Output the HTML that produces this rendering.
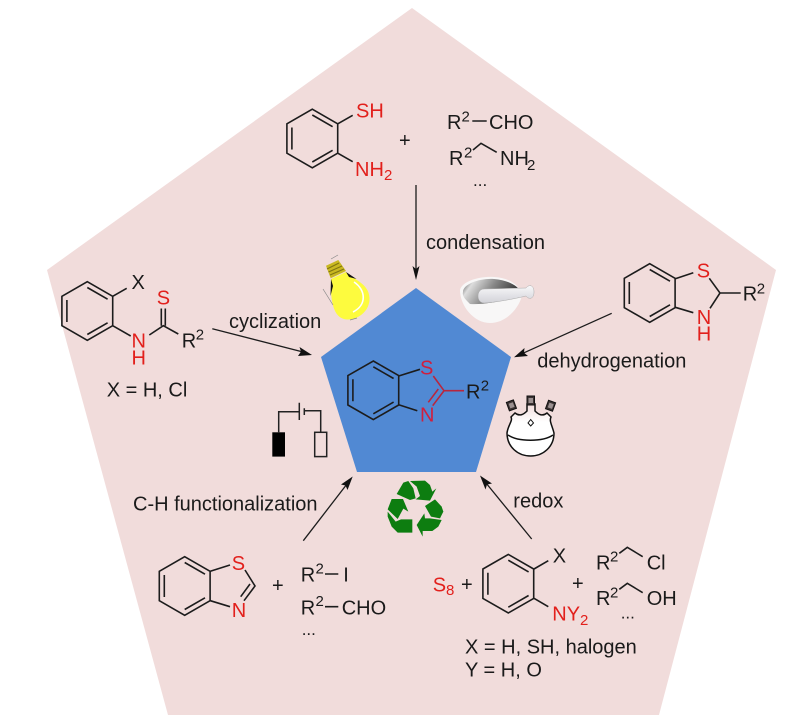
<!DOCTYPE html>
<html><head><meta charset="utf-8"><style>
html,body{margin:0;padding:0;background:#fff}
svg{display:block}
text{font-family:"Liberation Sans",sans-serif;font-size:20px;fill:#1a1a1a}
.r{fill:#e2201c}.c{fill:#cf1f3e}.s{font-size:15px}
.b{stroke:#1c1c1c;stroke-width:1.6;fill:none}
.rb{stroke:#b8263e;stroke-width:1.6;fill:none}
.a{stroke:#1c1c1c;stroke-width:1.3;fill:none}
</style></head><body>
<svg width="800" height="715" viewBox="0 0 800 715" xmlns="http://www.w3.org/2000/svg">
<defs>
<g id="ring" class="b"><path d="M0,-29.3L25.4,-14.7V14.7L0,29.3L-25.4,14.7V-14.7Z"/><path d="M-20.4,-11V11M0,-23.5L20.3,-11.8M0,23.5L20.3,11.8"/></g>
<linearGradient id="gm" x1="0" y1="0" x2="1" y2="0.3"><stop offset="0" stop-color="#444"/><stop offset=".2" stop-color="#ddd"/><stop offset=".55" stop-color="#888"/><stop offset="1" stop-color="#333"/></linearGradient>
<linearGradient id="gp" x1="0" y1="0" x2="0" y2="1"><stop offset="0" stop-color="#f8f8fa"/><stop offset="1" stop-color="#d2d2d8"/></linearGradient>
<linearGradient id="gf" x1="0" y1="0" x2="0" y2="1"><stop offset="0" stop-color="#f1dcdb"/><stop offset=".35" stop-color="#ffffff"/><stop offset="1" stop-color="#fff"/></linearGradient>
</defs>

<polygon points="412,8 776,270 659,715 168,715 47,270" fill="#f1dcdb"/>
<polygon points="416,288 511,357 476,472 357,472 321,357" fill="#5189d3"/>

<!-- top molecule -->
<use href="#ring" x="312.3" y="138.5"/>
<path class="b" d="M338,123.7L352.7,115.3M338,153.3L352.7,161.7"/>
<text class="r" x="356" y="117.5">SH</text>
<text class="r" x="355" y="176">NH</text><text class="r s" x="384" y="180">2</text>
<text x="399" y="147">+</text>
<text x="447" y="129">R</text><text class="s" x="461.5" y="121.5">2</text>
<path class="b" d="M472.3,121H486.7M473,150L481,143.3L496.7,152.3"/>
<text x="489" y="129">CHO</text>
<text x="449" y="165">R</text><text class="s" x="464" y="157.5">2</text>
<text x="500" y="165">NH</text><text class="s" x="527" y="170">2</text>
<text x="473" y="186" style="font-size:17px">...</text>
<path class="a" d="M416,185V270"/><path d="M416,280L412.5,266L416,269L419.5,266Z" fill="#111"/>
<text x="426" y="249">condensation</text>

<!-- left molecule -->
<use href="#ring" x="87.3" y="311"/>
<path class="b" d="M112.7,296.3L126.7,288.3M112.7,325.7L130.7,336M149.3,335L163.3,325.7L178.3,334M161.3,325.7V308.5M165.3,325.7V308.5"/>
<text x="131.5" y="289">X</text>
<text class="r" x="131.5" y="347.3">N</text><text class="r" x="131.5" y="364.7">H</text>
<text class="r" x="156.7" y="304.3">S</text>
<text x="181.7" y="347.7">R</text><text class="s" x="195.7" y="339.3">2</text>
<text x="106.7" y="396.7">X = H, Cl</text>
<path class="a" d="M212.3,328.7L305,352.5"/><path d="M312,355L298,356L301,351.5L299.5,347Z" fill="#111"/>
<text x="229" y="328">cyclization</text>

<!-- right molecule -->
<use href="#ring" x="649.7" y="293"/>
<path class="b" d="M675.3,278.7L693.3,272.7M675.3,307.3L693.3,312.7M709.3,278.3L720,293L710,308.3M720,293H740.7"/>
<text class="r" x="696.7" y="277.3">S</text>
<text class="r" x="696.7" y="324">N</text><text class="r" x="696.7" y="340.7">H</text>
<text x="742.7" y="300.7">R</text><text class="s" x="756.7" y="293.3">2</text>
<path class="a" d="M611.7,313.3L522,353.7"/><path d="M514,357.3L524.5,348L524,352.8L528,356Z" fill="#111"/>
<text x="537.3" y="367.7">dehydrogenation</text>

<!-- center molecule -->
<use href="#ring" x="373.3" y="390.3"/>
<path class="b" d="M398.7,376L420,369.3M398.7,404.7L417.3,410.7"/>
<path class="rb" d="M433.3,376L444,390.7L432.7,405.7M438.3,389L428.3,402.3M444,390.7H464"/>
<text class="c" x="420" y="374.7">S</text>
<text class="c" x="420" y="421.7">N</text>
<text x="466" y="398.7">R</text><text class="s" x="480.7" y="390.7">2</text>

<!-- bottom left -->
<use href="#ring" x="184.7" y="586"/>
<path class="b" d="M210.3,571.3L230,565M210.3,600.7L230,606.7M245,570L255,586L244,600.7M250,584L240.7,596.7"/>
<text class="r" x="231.7" y="570">S</text>
<text class="r" x="231.7" y="617">N</text>
<text x="272" y="592">+</text>
<text x="300.7" y="581.7">R</text><text class="s" x="315.5" y="573.3">2</text>
<path class="b" d="M325,574H338.3M325,606.7H338.3"/>
<text x="343.3" y="581.7">I</text>
<text x="300.7" y="614.3">R</text><text class="s" x="315.5" y="606">2</text>
<text x="341.7" y="614.3">CHO</text>
<text x="301.7" y="635" style="font-size:17px">...</text>
<path class="a" d="M303.3,540.7L347,484"/><path d="M352.7,476.5L347.5,490L345.5,485.5L341,484.5Z" fill="#111"/>
<text x="133" y="510.7">C-H functionalization</text>

<!-- bottom right -->
<use href="#ring" x="508.3" y="583.7"/>
<path class="b" d="M534,569L548.3,560.7M534,598.3L548.3,606.7"/>
<text x="552.7" y="562.3">X</text>
<text class="r" x="552.3" y="620.7">NY</text><text class="r s" x="580" y="625">2</text>
<text class="r" x="432.7" y="591.7">S</text><text class="r s" x="446" y="595">8</text>
<text x="461" y="591">+</text>
<text x="572" y="590">+</text>
<text x="596" y="569.3">R</text><text class="s" x="610" y="561.7">2</text>
<path class="b" d="M619.3,553.3L627.3,547.3L642.7,556.7M619.3,589.3L627.3,583.3L642.7,592.7"/>
<text x="646.7" y="569.3">Cl</text>
<text x="596" y="605">R</text><text class="s" x="610" y="597.3">2</text>
<text x="646.7" y="605">OH</text>
<text x="620.7" y="618.3" style="font-size:17px">...</text>
<text x="465" y="653.3">X = H, SH, halogen</text>
<text x="465" y="676.7">Y = H, O</text>
<text x="513.3" y="507.3">redox</text>
<path class="a" d="M531.7,539L486,483"/><path d="M480,475.5L492,483.5L487,484.5L485.5,489.5Z" fill="#111"/>

<!-- bulb -->
<path d="M331,279L346,272C352,279 369,283 369.5,298C370,311 358,320 347,319.5C335,319 330,305 331,279Z" fill="#fdfb3e"/>
<path d="M331,279L330.5,296L333,286ZM346,272L356.5,279L349,277Z" fill="#111"/>
<polygon points="326,265.7 338.3,260 346,271 330.7,278.3" fill="#c9b821"/>
<path d="M327,269L339,263M328.5,272L342,266M330,275L344,269" stroke="#7f7412" stroke-width="1"/>
<path d="M354,282C366,290 367,305 353,312" fill="none" stroke="#fff" stroke-width="1.6"/>
<path d="M331,259L338,255M323,289L333,305M350,320L357,318" stroke="#888" stroke-width=".7"/>

<!-- mortar -->
<path d="M460,290C462,281 480,276 494,277C510,278 520,285 522,296C518,310 505,323 490,323C474,323 460,306 460,290Z" fill="#f8f7f7"/>
<path d="M463,292C463,284 480,278 494,279C508,280 518,286 521,292C515,298 490,305 470,304C465,299 462,296 463,292Z" fill="url(#gm)"/>
<path d="M484,289L526,288C529,284 534,285 534,292C534,299 529,300 526,296C510,300 490,303 484,303C476,303 476,289 484,289Z" fill="url(#gp)" stroke="#aaa" stroke-width=".5"/>

<!-- flask -->
<path d="M515,413C520,417 524,414 527,411V404H535V411C538,414 542,417 547,413L551,417C549,421 552,425 554,433C554,447 543,456 530.7,456C518,456 507,447 507,433C508,425 513,421 511,417Z" fill="url(#gf)" stroke="#111" stroke-width="1.5"/>
<path d="M508,435C518,442 543,442 553,435" fill="none" stroke="#111" stroke-width="1.5"/>
<g fill="#3a3232" stroke="#111" stroke-width="1">
<rect x="527" y="396" width="7.5" height="9"/>
<rect x="507.5" y="401" width="7.5" height="9" transform="rotate(-20 511 405)"/>
<rect x="547" y="401" width="7.5" height="9" transform="rotate(20 550 405)"/>
</g>
<rect x="528.5" y="398" width="4.5" height="5" fill="#9a9090"/>
<rect x="509.2" y="403" width="4.5" height="5" fill="#9a9090" transform="rotate(-20 511 405)"/>
<rect x="548.7" y="403" width="4.5" height="5" fill="#9a9090" transform="rotate(20 550 405)"/>
<path d="M530.7,419.5L533.5,423L530.7,426L528,423Z" fill="#fff" stroke="#111" stroke-width="1"/>

<!-- battery -->
<rect x="272.3" y="432.3" width="12.7" height="24.3" fill="#000"/>
<rect x="314.7" y="432.3" width="12" height="24.3" fill="none" stroke="#222" stroke-width="1.5"/>
<path d="M278.7,432.3V411.7H299.3M299.3,402.7V420M304.3,408.3V415M304.3,410.7H320.7V432.3" fill="none" stroke="#222" stroke-width="1.5"/>

<!-- recycle -->
<g transform="translate(375,470) scale(.3333)" fill="#0d7d10">
<polygon points="65,72 85,38 100,33 115,55 122,85 105,90"/>
<polygon points="105,33 150,32 165,45 172,65 184,55 165,92 122,88 135,78 125,50"/>
<polygon points="50,87 84,87 100,125 85,116 68,147 38,118"/>
<polygon points="38,125 62,155 78,148 112,148 112,188 68,188 50,170 38,140"/>
<polygon points="180,88 200,110 205,125 195,145 168,140 150,108"/>
<polygon points="148,130 125,165 143,200 143,183 172,183 190,170 200,150 165,145 150,145"/>
</g>
</svg>
</body></html>
